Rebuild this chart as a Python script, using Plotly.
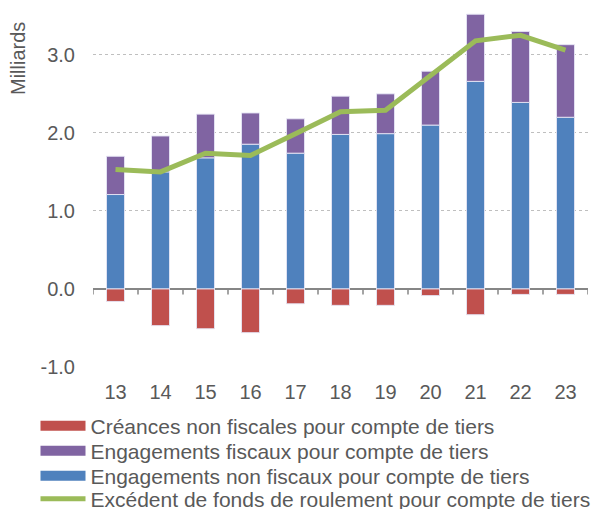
import plotly.graph_objects as go

years = ["13", "14", "15", "16", "17", "18", "19", "20", "21", "22", "23"]
creances_non_fiscales = [-0.16, -0.47, -0.51, -0.56, -0.19, -0.21, -0.21, -0.085, -0.33, -0.07, -0.07]
engagements_fiscaux = [0.49, 0.46, 0.56, 0.40, 0.44, 0.49, 0.51, 0.69, 0.86, 0.91, 0.93]
engagements_non_fiscaux = [1.21, 1.50, 1.68, 1.855, 1.74, 1.98, 1.99, 2.10, 2.66, 2.39, 2.20]
excedent = [1.53, 1.50, 1.74, 1.71, 1.99, 2.27, 2.29, 2.74, 3.18, 3.25, 3.06]

y_tickvals = [-1, 0, 1, 2, 3]
y_ticktext = ["-1.0", "0.0", "1.0", "2.0", "3.0"]

names = [
    "Créances non fiscales pour compte de tiers",
    "Engagements fiscaux pour compte de tiers",
    "Engagements non fiscaux pour compte de tiers",
    "Excédent de fonds de roulement pour compte de tiers",
]
RED, PURPLE, BLUE, GREEN = "#C0504D", "#8064A2", "#4F81BD", "#9BBB59"
FONT = "Liberation Sans, Arial, sans-serif"
GREY = "#595959"
W, H = 592, 509

fig = go.Figure()
border = dict(width=1, color="rgba(230,230,245,0.9)")
fig.add_bar(x=years, y=engagements_non_fiscaux, marker=dict(color=BLUE, line=border),
            width=0.4, showlegend=False, name=names[2])
fig.add_bar(x=years, y=engagements_fiscaux, marker=dict(color=PURPLE, line=border),
            width=0.4, showlegend=False, name=names[1])
fig.add_bar(x=years, y=creances_non_fiscales, marker=dict(color=RED, line=border),
            width=0.4, showlegend=False, name=names[0])
fig.add_scatter(x=years, y=excedent, mode="lines", line=dict(color=GREEN, width=5),
                showlegend=False, name=names[3])

# legend entries, one legend per row so the row spacing matches the original
legend_keys = ["legend", "legend2", "legend3", "legend4"]
row_centers_px = [426, 451, 476, 499]
for nm, col, w, lg in zip(names, [RED, PURPLE, BLUE, GREEN], [11, 11, 11, 5], legend_keys):
    fig.add_scatter(x=[None], y=[None], mode="lines", name=nm,
                    line=dict(color=col, width=w), showlegend=True, legend=lg)

legend_style = dict(orientation="v", xref="container", yref="container",
                    x=35.5 / W, xanchor="left", yanchor="middle",
                    font=dict(family=FONT, size=21, color=GREY), itemwidth=45,
                    bgcolor="rgba(0,0,0,0)", borderwidth=0)
legends = {}
for lg, yc in zip(legend_keys, row_centers_px):
    legends[lg] = dict(legend_style, y=(H - yc) / H)

# tick marks on zero line between categories
n = len(years)
for i in range(n + 1):
    fig.add_shape(type="line", xref="x", yref="y", x0=i - 0.5, x1=i - 0.5,
                  y0=0, y1=-0.07, line=dict(color="#868686", width=1.5))

fig.add_annotation(text="Milliards", xref="paper", yref="paper", x=-0.152, y=0.86,
                   textangle=-90, showarrow=False, xanchor="center", yanchor="middle",
                   font=dict(family=FONT, size=20, color=GREY))

fig.update_layout(
    width=W, height=H,
    margin=dict(l=93, r=4, t=8, b=142, autoexpand=False),
    barmode="relative",
    plot_bgcolor="white", paper_bgcolor="white",
    font=dict(family=FONT, size=20, color=GREY),
    xaxis=dict(type="category", range=[-0.5, n - 0.5], showgrid=False, showline=False,
               ticks="", ticklabelstandoff=11, automargin=False),
    yaxis=dict(range=[-1, 3.6], tickvals=y_tickvals, ticktext=y_ticktext,
               showgrid=True, gridcolor="#BFBFBF", griddash="dot", gridwidth=1,
               zeroline=True, zerolinecolor="#868686", zerolinewidth=1.5,
               showline=False, ticks="", ticklabelstandoff=17, automargin=False),
    **legends,
)

fig.write_html("out.html", config={"displayModeBar": False},
               post_script="document.body.style.margin='0';")
